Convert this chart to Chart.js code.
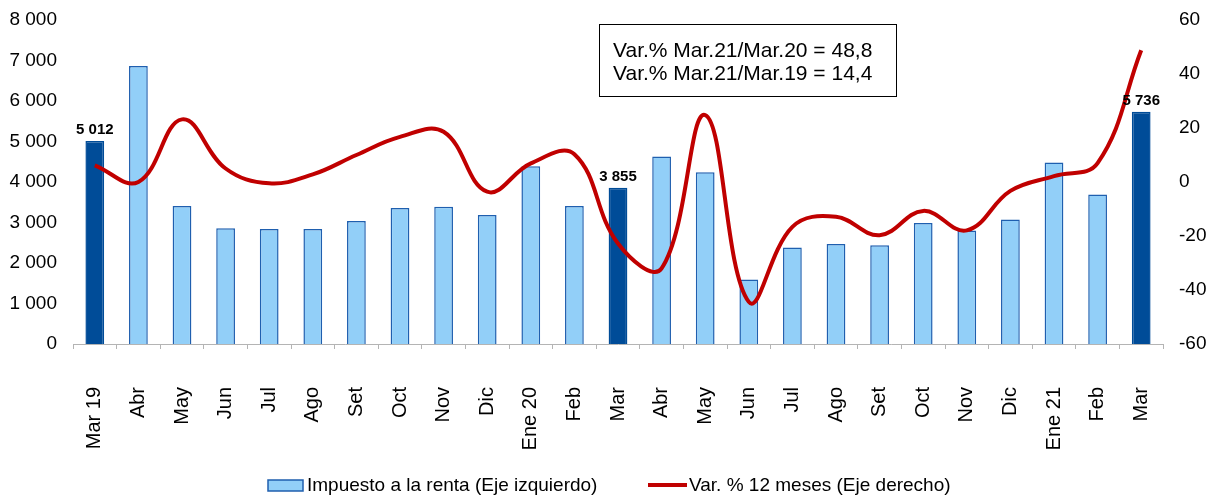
<!DOCTYPE html>
<html>
<head>
<meta charset="utf-8">
<script src="https://cdn.jsdelivr.net/npm/chart.js@4"></script>
<style>
  html, body { margin: 0; padding: 0; background: #fff; }
</style>
</head>
<body>
<canvas id="rentaChart" width="1215" height="495"></canvas>
<script>
const months = ["Mar 19", "Abr", "May", "Jun", "Jul", "Ago", "Set", "Oct", "Nov", "Dic", "Ene 20", "Feb",
  "Mar", "Abr", "May", "Jun", "Jul", "Ago", "Set", "Oct", "Nov", "Dic", "Ene 21", "Feb", "Mar"];
const impuesto = [5012, 6862, 3410, 2858, 2842, 2842, 3040, 3361, 3386, 3188, 4390, 3410,
  3855, 4629, 4242, 1590, 2381, 2471, 2438, 2990, 2800, 3072, 4481, 3690, 5736];
const varAnual = [6.2, 0, 23.2, 5, -0.5, 2.8, 10, 16.7, 18.6, -3.6, 6.9, 10.3,
  -22.8, -32, 24.8, -44.4, -16.6, -12.9, -19.7, -10.7, -17.9, -3.3, 2.2, 7, 48.8];
const seriesNames = ["Impuesto a la renta (Eje izquierdo)", "Var. % 12 meses (Eje derecho)"];
const notas = ["Var.% Mar.21/Mar.20 = 48,8", "Var.% Mar.21/Mar.19 = 14,4"];

const FONT = "'Liberation Sans', Arial, sans-serif";
const DARK = "#004C98";
const LIGHT = "#92CFF8";
const LIGHT_EDGE = "#1F5FAF";
const RED = "#C00000";

const miles = v => String(v).replace(/\B(?=(\d{3})+(?!\d))/g, " ");
const isMarzo = i => months[i].startsWith("Mar");

// value labels over the March bars
const barLabels = {
  id: "barLabels",
  afterDatasetsDraw(chart) {
    const meta = chart.getDatasetMeta(0);
    const ctx = chart.ctx;
    ctx.save();
    ctx.font = "bold 15px " + FONT;
    ctx.fillStyle = "#000";
    ctx.textAlign = "center";
    ctx.textBaseline = "alphabetic";
    meta.data.forEach((bar, i) => {
      if (!isMarzo(i)) return;
      ctx.fillText(miles(impuesto[i]), bar.x, bar.y - 7);
    });
    ctx.restore();
  }
};

// text box with the variations
const notaBox = {
  id: "notaBox",
  afterDraw(chart) {
    const ctx = chart.ctx;
    ctx.save();
    ctx.fillStyle = "#fff";
    ctx.fillRect(599.5, 24.5, 297, 72);
    ctx.strokeStyle = "#000";
    ctx.lineWidth = 1;
    ctx.strokeRect(599.5, 24.5, 297, 72);
    ctx.fillStyle = "#000";
    ctx.font = "21px " + FONT;
    ctx.textAlign = "left";
    ctx.textBaseline = "alphabetic";
    ctx.fillText(notas[0], 613, 56.5);
    ctx.fillText(notas[1], 613, 80);
    ctx.restore();
  }
};

// legend drawn under the axis
const leyenda = {
  id: "leyenda",
  afterDraw(chart) {
    const ctx = chart.ctx;
    const y = 485;
    ctx.save();
    ctx.font = "19px " + FONT;
    ctx.fillStyle = "#000";
    ctx.textBaseline = "middle";
    ctx.textAlign = "left";

    ctx.fillStyle = LIGHT;
    ctx.fillRect(268, y - 5, 35, 11);
    ctx.strokeStyle = LIGHT_EDGE;
    ctx.lineWidth = 1.5;
    ctx.strokeRect(268, y - 5, 35, 11);
    ctx.fillStyle = "#000";
    ctx.fillText(seriesNames[0], 307, y + 1);

    ctx.strokeStyle = RED;
    ctx.lineWidth = 4;
    ctx.beginPath();
    ctx.moveTo(648, y);
    ctx.lineTo(687, y);
    ctx.stroke();
    ctx.fillText(seriesNames[1], 689, y + 1);
    ctx.restore();
  }
};

// fixed widths for the value axes, without the extra label padding on top
const fixAxis = w => scale => {
  scale.width = w;
  scale.paddingTop = 0;
  scale.paddingBottom = 0;
};

new Chart(document.getElementById("rentaChart").getContext("2d"), {
  type: "bar",
  data: {
    labels: months,
    datasets: [
      {
        type: "bar",
        label: seriesNames[0],
        data: impuesto,
        yAxisID: "y",
        order: 1,
        backgroundColor: ctx => isMarzo(ctx.dataIndex) ? DARK : LIGHT,
        borderColor: ctx => isMarzo(ctx.dataIndex) ? DARK : LIGHT_EDGE,
        borderWidth: 1.5,
        barPercentage: 0.43,
        categoryPercentage: 1
      },
      {
        type: "line",
        label: seriesNames[1],
        data: varAnual,
        yAxisID: "y2",
        order: 0,
        borderColor: RED,
        borderWidth: 4,
        pointRadius: 0,
        tension: 0.4,
        fill: false
      }
    ]
  },
  options: {
    responsive: false,
    animation: false,
    devicePixelRatio: 1,
    layout: { padding: { top: 20, bottom: 31, left: 0, right: 0 } },
    plugins: {
      legend: { display: false },
      tooltip: { enabled: false }
    },
    scales: {
      x: {
        offset: true,
        grid: { display: true, drawOnChartArea: false, drawTicks: true, tickLength: 5, color: "#B4B4B4", offset: true },
        border: { display: true, color: "#B4B4B4", width: 1 },
        ticks: {
          autoSkip: false,
          minRotation: 90,
          maxRotation: 90,
          padding: 38,
          color: "#000",
          font: { family: FONT, size: 20 }
        },
        afterFit(scale) { scale.height = 120; }
      },
      y: {
        position: "left",
        min: 0,
        max: 8000,
        grid: { display: false, drawTicks: false },
        border: { display: false },
        ticks: {
          stepSize: 1000,
          padding: 16,
          color: "#000",
          font: { family: FONT, size: 19 },
          callback: v => miles(v)
        },
        afterFit: fixAxis(73)
      },
      y2: {
        position: "right",
        min: -60,
        max: 60,
        grid: { display: false, drawTicks: false },
        border: { display: false },
        ticks: {
          stepSize: 20,
          padding: 16,
          color: "#000",
          font: { family: FONT, size: 19 }
        },
        afterFit: fixAxis(52)
      }
    }
  },
  plugins: [barLabels, notaBox, leyenda]
});
</script>
</body>
</html>
